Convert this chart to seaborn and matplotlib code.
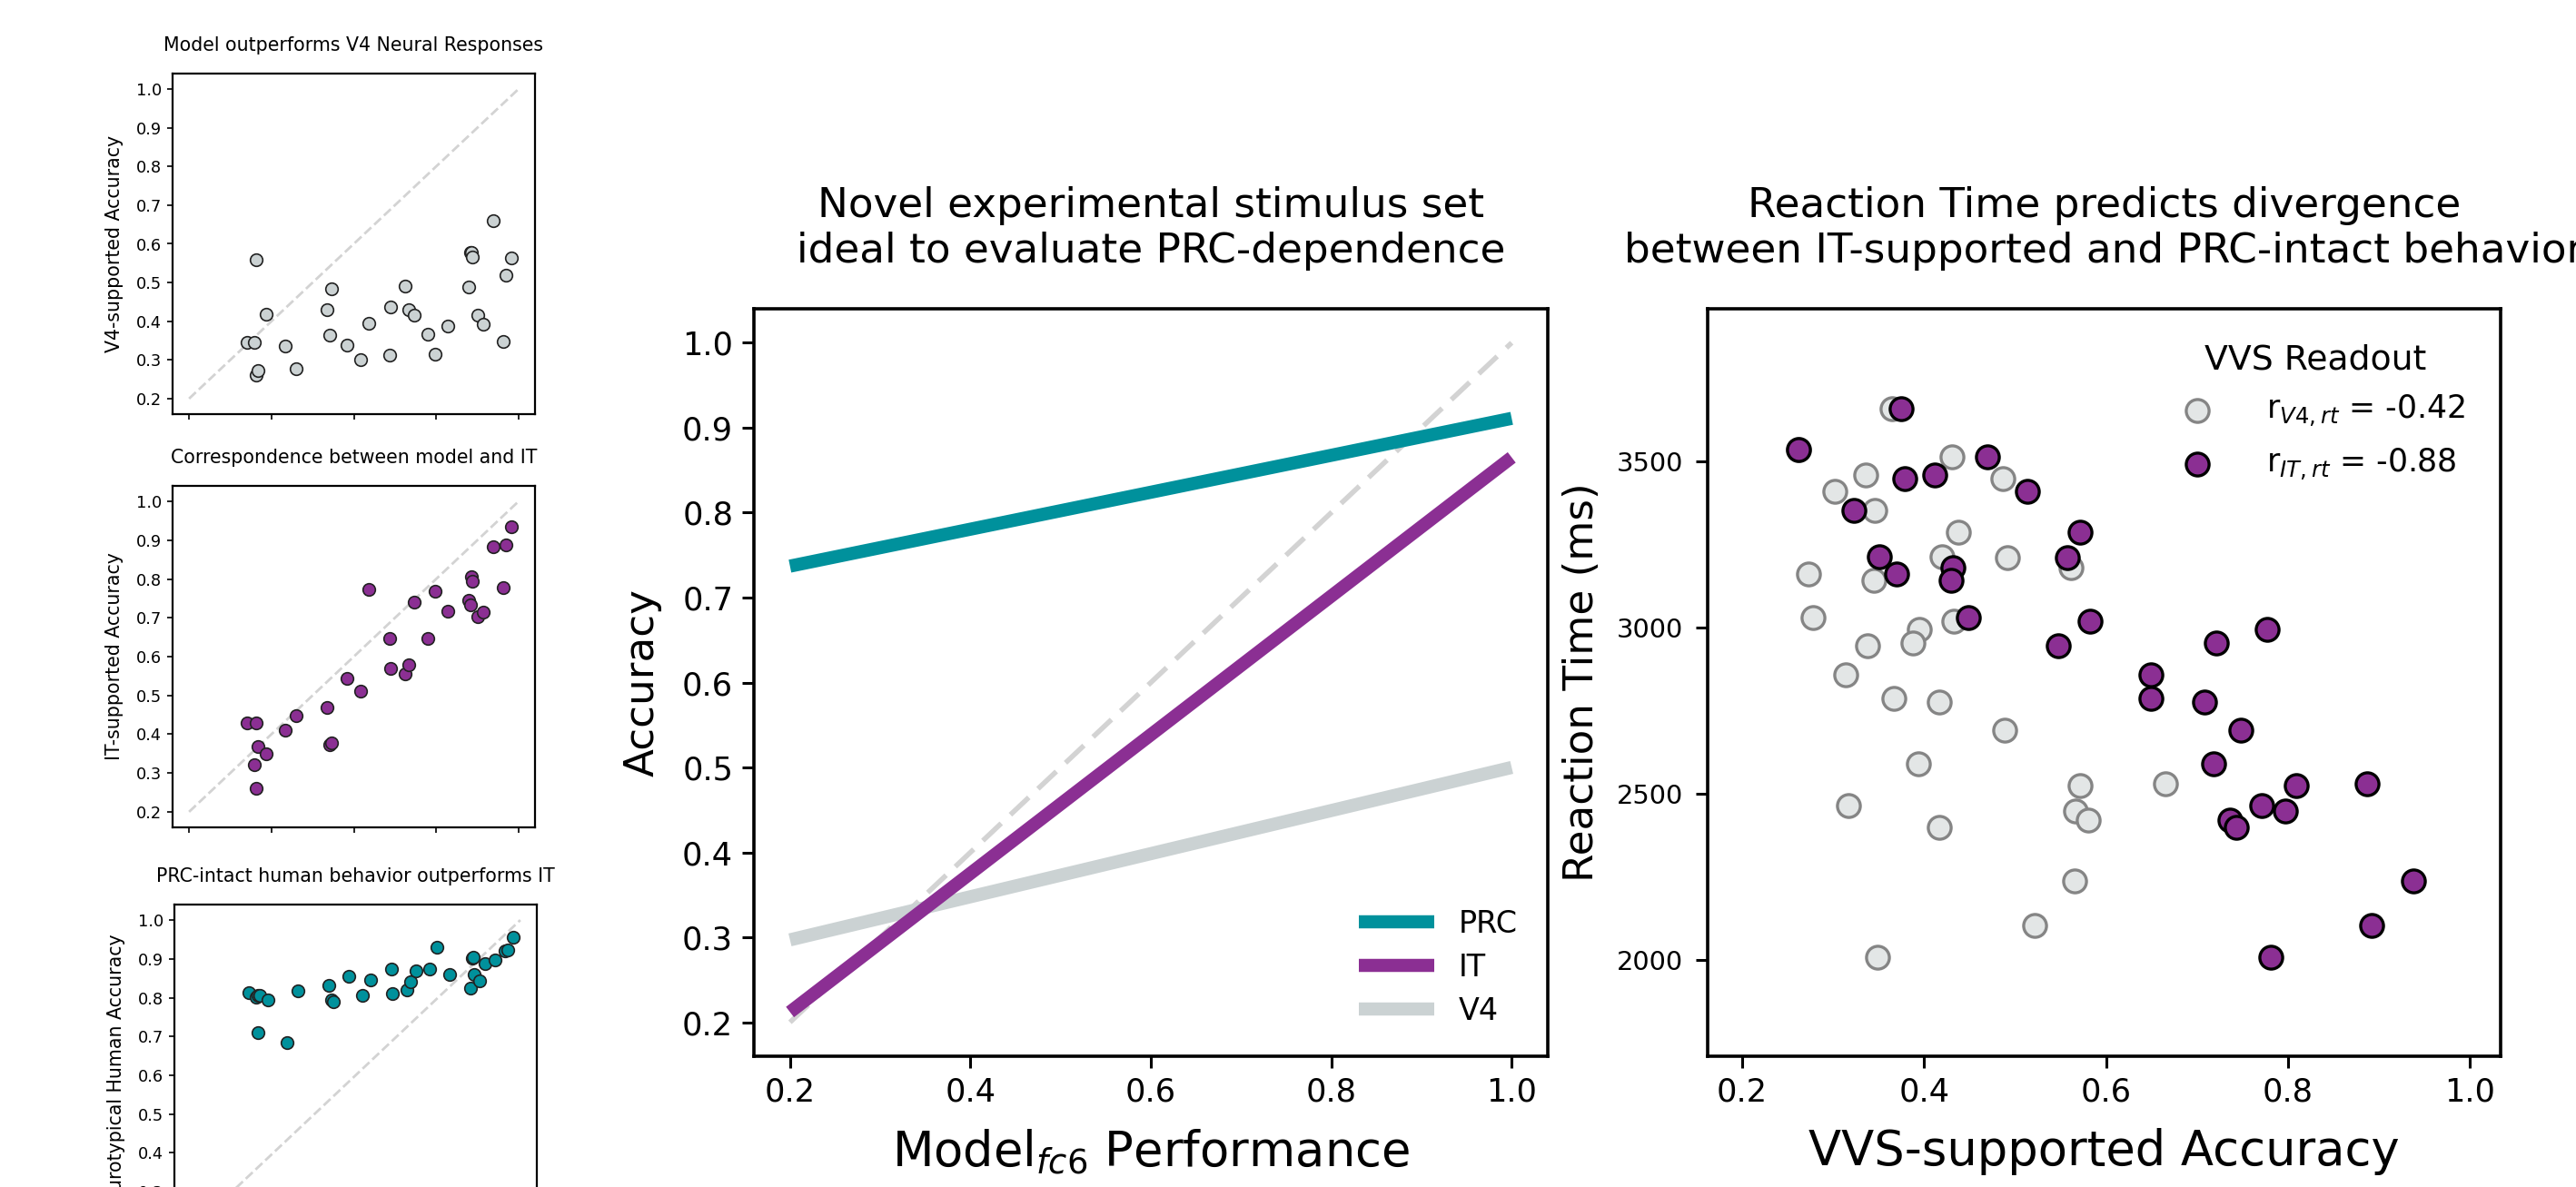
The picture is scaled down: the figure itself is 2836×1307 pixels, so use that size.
import numpy as np
import pandas as pd
import matplotlib
matplotlib.use("Agg")
import matplotlib.pyplot as plt
import seaborn as sns

# ---------------- data ----------------
# per-condition accuracies (small panels)
model_acc = [0.340, 0.359, 0.362, 0.362, 0.368, 0.387, 0.433, 0.459, 0.534, 0.542,
             0.545, 0.583, 0.616, 0.637, 0.687, 0.690, 0.725, 0.734, 0.746, 0.779,
             0.797, 0.828, 0.880, 0.884, 0.886, 0.888, 0.901, 0.914, 0.938, 0.963,
             0.969, 0.983]
v4_acc = [0.345, 0.345, 0.560, 0.261, 0.273, 0.418, 0.335, 0.278, 0.430, 0.364,
          0.485, 0.338, 0.301, 0.394, 0.313, 0.436, 0.491, 0.431, 0.415, 0.366,
          0.316, 0.387, 0.488, 0.577, 0.577, 0.566, 0.416, 0.392, 0.661, 0.348,
          0.520, 0.564]
it_acc = [0.428, 0.322, 0.430, 0.261, 0.368, 0.350, 0.410, 0.447, 0.469, 0.372,
          0.377, 0.545, 0.512, 0.773, 0.646, 0.570, 0.555, 0.579, 0.740, 0.646,
          0.768, 0.718, 0.745, 0.734, 0.807, 0.794, 0.703, 0.714, 0.883, 0.779,
          0.888, 0.934]
prc_acc = [0.813, 0.801, 0.710, 0.805, 0.807, 0.795, 0.684, 0.818, 0.831, 0.795,
           0.789, 0.855, 0.805, 0.846, 0.875, 0.811, 0.820, 0.842, 0.869, 0.875,
           0.929, 0.859, 0.825, 0.902, 0.905, 0.859, 0.844, 0.888, 0.897, 0.920,
           0.923, 0.956]

# identity reference
diag = [0.2, 1.0]

# fitted lines (middle panel)
fit_x = [0.2, 1.0]
fit_lines = {"PRC": [0.737, 0.911], "IT": [0.212, 0.865], "V4": [0.297, 0.500]}
legend_order = ["PRC", "IT", "V4"]
draw_order = ["V4", "IT", "PRC"]

# reaction time panel
rt_ms = [3659, 3536, 3514, 3460, 3449, 3410, 3353, 3287, 3213, 3211,
         3180, 3161, 3142, 3030, 3019, 2995, 2945, 2953, 2858, 2787,
         2775, 2691, 2590, 2524, 2529, 2464, 2447, 2422, 2398, 2239,
         2105, 2007]
rt_v4_acc = [0.365, 0.262, 0.431, 0.336, 0.487, 0.302, 0.346, 0.438, 0.420, 0.492,
             0.562, 0.273, 0.345, 0.278, 0.433, 0.395, 0.338, 0.388, 0.314, 0.367,
             0.417, 0.489, 0.394, 0.572, 0.665, 0.317, 0.567, 0.581, 0.417, 0.566,
             0.522, 0.349]
rt_it_acc = [0.375, 0.262, 0.470, 0.412, 0.379, 0.514, 0.323, 0.572, 0.351, 0.558,
             0.432, 0.370, 0.430, 0.449, 0.583, 0.777, 0.548, 0.721, 0.649, 0.649,
             0.708, 0.748, 0.718, 0.809, 0.887, 0.771, 0.797, 0.736, 0.743, 0.938,
             0.892, 0.781]
r_v4_rt = -0.42
r_it_rt = -0.88

acc_ticks = [0.2, 0.4, 0.6, 0.8, 1.0]
acc_yticks = [0.2, 0.3, 0.4, 0.5, 0.6, 0.7, 0.8, 0.9, 1.0]
rt_ticks = [2000, 2500, 3000, 3500]

# ---------------- style ----------------
TEAL = "#00919c"
PURPLE = "#8b2f93"
V4GRAY = "#cbd2d3"
DIAG = "#d3d3d3"
colors = {"PRC": TEAL, "IT": PURPLE, "V4": V4GRAY}

plt.rcParams['font.family'] = ['DejaVu Sans']
plt.rcParams['mathtext.fontset'] = 'dejavusans'

W, H = 2836, 1307
DPI = 200
fig = plt.figure(figsize=(W / DPI, H / DPI), dpi=DPI)


def rect(l, t, r, b):
    return [l / W, 1 - b / H, (r - l) / W, (b - t) / H]


# ---------------- small panels ----------------
def small_panel(box, yvals, face, title, ylabel):
    ax = fig.add_axes(rect(*box))
    sns.lineplot(x=diag, y=diag, ax=ax, color=DIAG, lw=1.0,
                 linestyle=(0, (3.7, 1.6)), zorder=1)
    sns.scatterplot(x=model_acc, y=yvals, ax=ax, color=face,
                    edgecolor="#222222", linewidth=0.6, s=24, zorder=3)
    ax.set_xlim(0.16, 1.04)
    ax.set_ylim(0.16, 1.04)
    ax.set_xticks(acc_ticks)
    ax.set_xticklabels([])
    ax.set_yticks(acc_yticks)
    ax.set_yticklabels([f"{v:.1f}" for v in acc_yticks])
    ax.tick_params(direction="out", length=2.2, width=0.6, labelsize=6.4, pad=2)
    for s in ax.spines.values():
        s.set_linewidth(0.8)
    ax.set_title(title, fontsize=7.4, pad=9)
    ax.set_ylabel(ylabel, fontsize=7.4, labelpad=5)
    ax.set_xlabel("")
    return ax


small_panel((190, 81, 589, 456), v4_acc, "#cbd2d3",
            "Model outperforms V4 Neural Responses", "V4-supported Accuracy")
small_panel((190, 535, 589, 911), it_acc, PURPLE,
            "Correspondence between model and IT", "IT-supported Accuracy")
small_panel((192, 996, 591, 1372), prc_acc, TEAL,
            "PRC-intact human behavior outperforms IT", "Neurotypical Human Accuracy")

# ---------------- middle panel ----------------
axm = fig.add_axes(rect(830, 340, 1704, 1163))
sns.lineplot(x=diag, y=diag, ax=axm, color=DIAG, lw=2.0,
             linestyle=(0, (5, 2.5)), zorder=1)
for reg in draw_order:
    sns.lineplot(x=fit_x, y=fit_lines[reg], ax=axm, color=colors[reg], lw=5.2,
                 solid_capstyle="butt", label=reg, zorder=2)
handles, labels = axm.get_legend_handles_labels()
hmap = dict(zip(labels, handles))
axm.legend([hmap[k] for k in legend_order], legend_order, loc="lower right",
           frameon=False, fontsize=12, handlelength=2.5, labelspacing=0.45,
           borderaxespad=0.6)
axm.set_xlim(0.16, 1.04)
axm.set_ylim(0.16, 1.04)
axm.set_xticks(acc_ticks)
axm.set_xticklabels([f"{v:.1f}" for v in acc_ticks])
axm.set_yticks(acc_yticks)
axm.set_yticklabels([f"{v:.1f}" for v in acc_yticks])
axm.tick_params(direction="out", length=4.7, width=1.1, labelsize=12.7, pad=3.5)
for s in axm.spines.values():
    s.set_linewidth(1.3)
axm.set_ylabel("Accuracy", fontsize=16.3, labelpad=8)
axm.set_xlabel("Model$_{fc6}$ Performance", fontsize=19, labelpad=8)
axm.set_title("Novel experimental stimulus set\nideal to evaluate PRC-dependence",
              fontsize=16.3, pad=18.5)

# ---------------- right panel ----------------
axr = fig.add_axes(rect(1880, 340, 2753, 1163))
sns.scatterplot(x=rt_v4_acc, y=rt_ms, ax=axr, color="#e3e6e6", edgecolor="#858585",
                linewidth=1.2, s=82, zorder=2,
                label=f"r$_{{V4,rt}}$ = {r_v4_rt:.2f}")
sns.scatterplot(x=rt_it_acc, y=rt_ms, ax=axr, color=PURPLE, edgecolor="black",
                linewidth=1.2, s=82, zorder=3,
                label=f"r$_{{IT,rt}}$ = {r_it_rt:.2f}")
axr.legend(title="VVS Readout", loc="upper right", frameon=False, fontsize=12.5,
           title_fontsize=13.6, labelspacing=0.55, borderaxespad=0.7,
           handletextpad=1.2)
axr.set_xlim(0.162, 1.034)
axr.set_ylim(1710, 3960)
axr.set_xticks(acc_ticks)
axr.set_xticklabels([f"{v:.1f}" for v in acc_ticks])
axr.set_yticks(rt_ticks)
axr.set_yticklabels([str(v) for v in rt_ticks])
axr.tick_params(direction="out", length=4.7, width=1.1, labelsize=12.7, pad=3.5)
axr.tick_params(axis="y", labelsize=10.4, pad=5)
for s in axr.spines.values():
    s.set_linewidth(1.3)
axr.set_ylabel("Reaction Time (ms)", fontsize=16.3, labelpad=6)
axr.set_xlabel("VVS-supported Accuracy", fontsize=19, labelpad=8)
axr.set_title("Reaction Time predicts divergence\nbetween IT-supported and PRC-intact behavior",
              fontsize=16.3, pad=18.5)

fig.savefig("out.png", dpi=DPI)
